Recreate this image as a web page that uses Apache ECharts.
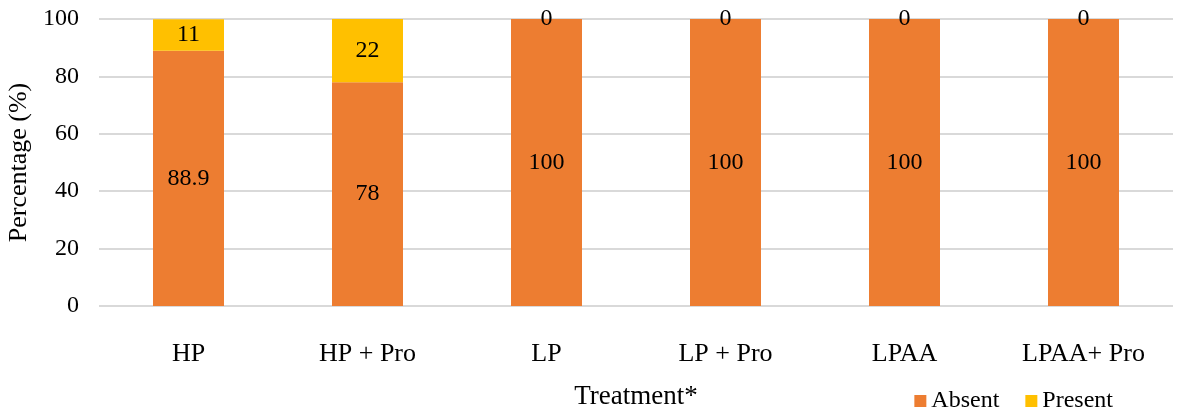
<!DOCTYPE html>
<html>
<head>
<meta charset="utf-8">
<script src="https://cdn.jsdelivr.net/npm/echarts@6/dist/echarts.min.js"></script>
<style>
  html, body { margin: 0; padding: 0; background: #fff; }
  #chart { width: 1181px; height: 413px; }
</style>
</head>
<body>
<div id="chart"></div>
<script>
// Treatment groups and stacked percentages
const categories = ['HP', 'HP + Pro', 'LP', 'LP + Pro', 'LPAA', 'LPAA+ Pro'];
const absent = [88.9, 78, 100, 100, 100, 100];
const present = [11, 22, 0, 0, 0, 0];
const yTicks = [0, 20, 40, 60, 80, 100];

const FONT = '"Liberation Serif", "Times New Roman", serif';

const chart = echarts.init(document.getElementById('chart'));

const labelStyle = {
  show: true,
  position: 'inside',
  color: '#000',
  fontFamily: FONT,
  fontSize: 24
};

chart.setOption({
  animation: false,
  textStyle: { fontFamily: FONT },
  grid: {
    left: 99, right: 8, top: 19, bottom: 107,
    containLabel: false,
    outerBoundsMode: 'none'
  },
  legend: {
    data: ['Absent', 'Present'],
    right: 68,
    bottom: 0,
    padding: 0,
    itemWidth: 12,
    itemHeight: 12,
    itemGap: 26,
    icon: 'rect',
    textStyle: { fontFamily: FONT, fontSize: 24, color: '#000' }
  },
  xAxis: {
    type: 'category',
    data: categories,
    name: 'Treatment*',
    nameLocation: 'middle',
    nameGap: 77,
    nameTextStyle: { fontFamily: FONT, fontSize: 27, color: '#000' },
    axisLine: { show: false },
    axisTick: { show: false },
    axisLabel: { margin: 35, fontFamily: FONT, fontSize: 26, color: '#000' }
  },
  yAxis: {
    type: 'value',
    min: 0,
    max: 100,
    interval: 20,
    name: 'Percentage (%)',
    nameLocation: 'middle',
    nameGap: 58,
    nameRotate: 90,
    nameTextStyle: { fontFamily: FONT, fontSize: 26, color: '#000' },
    axisLine: { show: false },
    axisTick: { show: false },
    axisLabel: {
      margin: 20,
      fontFamily: FONT,
      fontSize: 24,
      color: '#000',
      formatter: v => (yTicks.includes(v) ? String(v) : '')
    },
    splitLine: { lineStyle: { color: '#d9d9d9', width: 2 } }
  },
  series: [
    {
      name: 'Absent',
      type: 'bar',
      stack: 'total',
      barWidth: 71,
      data: absent,
      itemStyle: { color: '#ED7D31' },
      label: labelStyle
    },
    {
      name: 'Present',
      type: 'bar',
      stack: 'total',
      barWidth: 71,
      data: present,
      itemStyle: { color: '#FFC000' },
      label: labelStyle
    }
  ]
});
</script>
</body>
</html>
